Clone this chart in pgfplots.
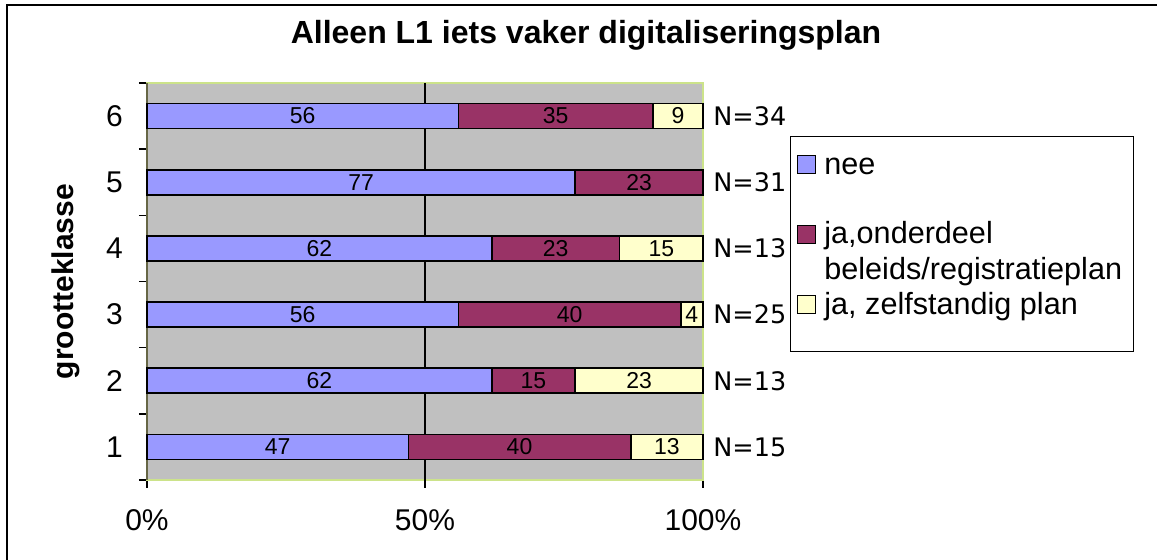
\documentclass[border=0pt]{standalone}
\usepackage{fontspec}
\setmainfont{Liberation Sans}
\newfontfamily\dejavu{DejaVu Sans}
\usepackage{pgfplots}
\pgfplotsset{compat=1.18}
\definecolor{nee}{HTML}{9999FF}
\definecolor{onderdeel}{HTML}{993366}
\definecolor{zelf}{HTML}{FFFFCC}
\definecolor{plotbg}{HTML}{C0C0C0}
\definecolor{frameg}{HTML}{CCE38A}
\definecolor{spine}{HTML}{666645}

% rows: grootteklasse 1..6, percentages per answer
\pgfplotstableread{
k nee onderdeel zelf
1 47 40 13
2 62 15 23
3 56 40 4
4 62 23 15
5 77 23 0
6 56 35 9
}\datatab

\begin{document}
\begin{tikzpicture}
\begin{axis}[
    scale only axis,
    width=278pt, height=198.5pt,
    xbar stacked,
    bar width=12.5pt,
    xmin=0, xmax=100, ymin=0.5, ymax=6.5,
    xtick={0,50,100}, xticklabels={0\%,50\%,100\%},
    extra x ticks={50}, extra x tick labels={},
    extra x tick style={grid=major, major grid style={black, line width=1pt}},
    ytick={0.5,1.5,...,6.5}, yticklabels={},
    extra y ticks={1,...,6}, extra y tick labels={1,2,3,4,5,6},
    extra y tick style={major tick length=0pt, yticklabel style={xshift=-8.5pt}},
    xtick pos=lower, ytick pos=left,
    tick align=outside,
    major tick length=4pt,
    tick style={black, line width=0.7pt},
    axis background/.style={fill=plotbg},
    axis line style={frameg, line width=1pt},
    ticklabel style={font=\fontsize{15}{18}\selectfont},
    xticklabel style={yshift=-7pt},
    title={Alleen L1 iets vaker digitaliseringsplan},
    title style={at={(axis description cs:0.7896,1.0705)}, anchor=base,
        font=\bfseries\fontsize{16}{19}\selectfont},
    ylabel={grootteklasse},
    ylabel style={at={(axis description cs:-0.1457,0.5)}, anchor=center,
        font=\bfseries\fontsize{15}{18}\selectfont},
    nodes near coords={\pgfmathtruncatemacro\vv{\rawx}\ifnum\vv>0 \vv\fi},
    every node near coord/.append style={anchor=center, inner sep=0pt,
        font=\fontsize{11.5}{13}\selectfont, black},
    legend cell align=left,
    legend style={at={(axis description cs:1.1565,0.864)}, anchor=north west,
        draw=none, fill=none,
        inner xsep=3.5pt, inner ysep=7.5pt, row sep=5pt, column sep=4pt,
        nodes={inner sep=0pt},
        font=\fontsize{15.3}{15.5}\selectfont},
    legend image code/.code={\draw[#1, line width=0.5pt] (0pt,-4.5pt) rectangle (9pt,4.5pt);},
    clip=false,
]
\draw[black, line width=0.5pt, fill=white]
    (rel axis cs:1.1565,0.864) rectangle (rel axis cs:1.7734,0.3224);
\addplot[fill=nee, draw=black, line width=0.8pt,
    visualization depends on=\thisrow{nee} \as \rawx] table[x=nee, y=k] {\datatab};
\addlegendentry{\strut nee}
\addlegendimage{empty legend}
\addlegendentry{\strut}
\addplot[fill=onderdeel, draw=black, line width=0.8pt,
    visualization depends on=\thisrow{onderdeel} \as \rawx] table[x=onderdeel, y=k] {\datatab};
\addlegendentry{\strut ja,onderdeel}
\addlegendimage{empty legend}
\addlegendentry{\strut beleids/registratieplan}
\addplot[fill=zelf, draw=black, line width=0.8pt,
    visualization depends on=\thisrow{zelf} \as \rawx] table[x=zelf, y=k] {\datatab};
\addlegendentry{\strut ja, zelfstandig plan}
\draw[spine, line width=1pt] (rel axis cs:0,0) -- (rel axis cs:0,1);
\node[anchor=west, inner sep=0pt, xshift=5pt, font=\dejavu\fontsize{12.75}{15}\selectfont] at (axis cs:100,1) {N=15};
\node[anchor=west, inner sep=0pt, xshift=5pt, font=\dejavu\fontsize{12.75}{15}\selectfont] at (axis cs:100,2) {N=13};
\node[anchor=west, inner sep=0pt, xshift=5pt, font=\dejavu\fontsize{12.75}{15}\selectfont] at (axis cs:100,3) {N=25};
\node[anchor=west, inner sep=0pt, xshift=5pt, font=\dejavu\fontsize{12.75}{15}\selectfont] at (axis cs:100,4) {N=13};
\node[anchor=west, inner sep=0pt, xshift=5pt, font=\dejavu\fontsize{12.75}{15}\selectfont] at (axis cs:100,5) {N=31};
\node[anchor=west, inner sep=0pt, xshift=5pt, font=\dejavu\fontsize{12.75}{15}\selectfont] at (axis cs:100,6) {N=34};
\end{axis}
\draw[line width=1pt] (-70pt,-45pt) -- (-70pt,237.5pt) -- (510pt,237.5pt);
\pgfresetboundingbox
\useasboundingbox (-73.5pt,-40pt) rectangle (505pt,240pt);
\end{tikzpicture}
\end{document}
